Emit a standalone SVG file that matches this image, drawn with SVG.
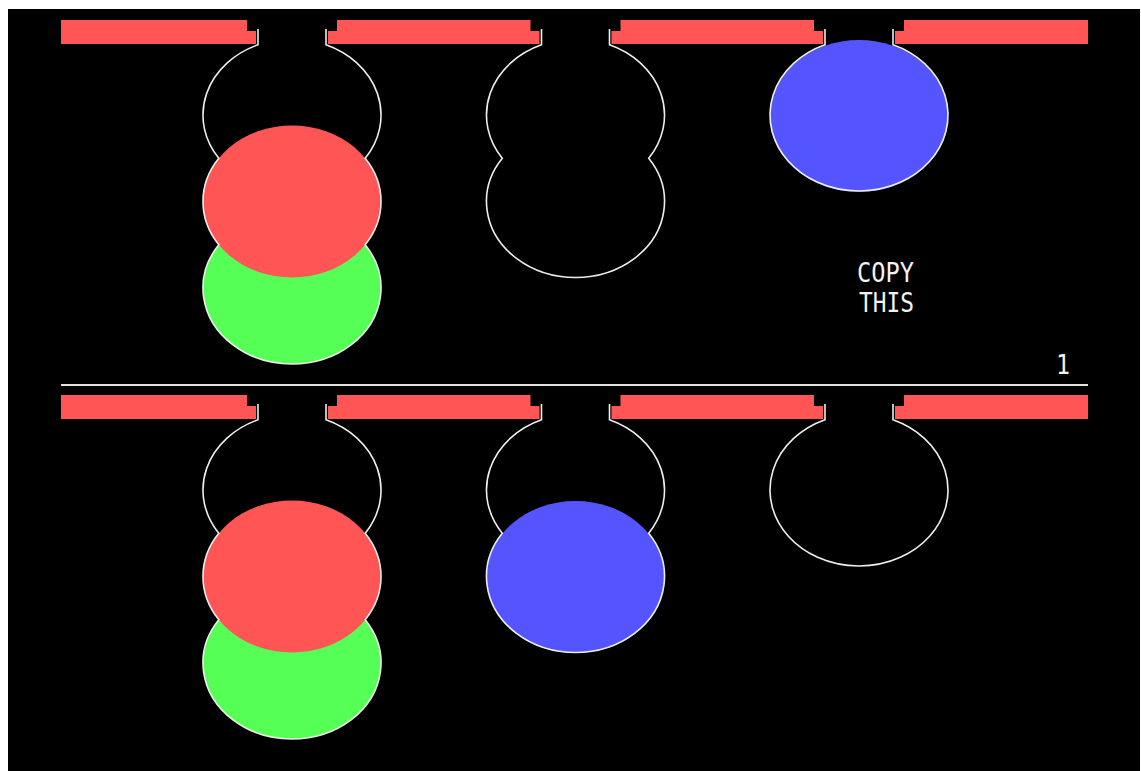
<svg xmlns="http://www.w3.org/2000/svg" width="1141" height="771" viewBox="0 0 1141 771">
<style>
.bar{fill:#FF5555}
.tube{fill:none;stroke:#EEEEEE;stroke-width:1.6}
.red{fill:#FF5555}
.green{fill:#55FF55}
.blue{fill:#5555FF}
.txt{fill:#F2F2F2;font-family:"DejaVu Sans Mono","Liberation Mono",monospace;font-size:26px}
</style>
<rect x="0" y="0" width="1141" height="771" fill="#FFFFFF"/>
<rect x="8" y="9" width="1132" height="762" fill="#000000"/>

<g id="panel-top">
  <g id="bars-top">
    <path class="bar" d="M61 20H247V31H256V44H61Z"/>
    <path class="bar" d="M337 20H530.5V31H539.5V44H328V31H337Z"/>
    <path class="bar" d="M620.5 20H814V31H823V44H611.5V31H620.5Z"/>
    <path class="bar" d="M904 20H1088V44H895V31H904Z"/>
  </g>
  <g id="balls-top">
    <ellipse class="green" cx="292" cy="288" rx="89" ry="76"/>
    <ellipse class="red" cx="292" cy="201.5" rx="89" ry="76"/>
    <ellipse class="blue" cx="859" cy="116" rx="89" ry="76"/>
  </g>
  <g id="tube-top-1">
    <path class="tube" d="M258 29V44.76A89 76 0 0 0 218.8 158.25A89 76 0 0 0 218.8 244.75A89 76 0 1 0 365.2 244.75A89 76 0 0 0 365.2 158.25A89 76 0 0 0 326 44.76V29"/>
  </g>
  <g id="tube-top-2">
    <path class="tube" d="M541.5 29V44.76A89 76 0 0 0 502.3 158.25A89 76 0 1 0 648.7 158.25A89 76 0 0 0 609.5 44.76V29"/>
  </g>
  <g id="tube-top-3">
    <path class="tube" d="M825 29V44.76A89 76 0 1 0 893 44.76V29"/>
  </g>
  <g id="label-copy">
    <text class="txt" x="857" y="282" textLength="57" lengthAdjust="spacingAndGlyphs">COPY</text>
    <text class="txt" x="859" y="312" textLength="55" lengthAdjust="spacingAndGlyphs">THIS</text>
  </g>
  <g id="label-level">
    <text class="txt" x="1056" y="374" textLength="14" lengthAdjust="spacingAndGlyphs">1</text>
  </g>
</g>

<g id="divider">
  <line x1="61" y1="385" x2="1088" y2="385" stroke="#E0E0E0" stroke-width="2"/>
</g>

<g id="panel-bottom">
  <g id="bars-bottom">
    <path class="bar" d="M61 395H247V406H256V419H61Z"/>
    <path class="bar" d="M337 395H530.5V406H539.5V419H328V406H337Z"/>
    <path class="bar" d="M620.5 395H814V406H823V419H611.5V406H620.5Z"/>
    <path class="bar" d="M904 395H1088V419H895V406H904Z"/>
  </g>
  <g id="balls-bottom">
    <ellipse class="green" cx="292" cy="663" rx="89" ry="76"/>
    <ellipse class="red" cx="292" cy="576.5" rx="89" ry="76"/>
    <ellipse class="blue" cx="575.5" cy="577" rx="89" ry="76"/>
  </g>
  <g id="tube-bottom-1">
    <path class="tube" d="M258 404V419.76A89 76 0 0 0 218.8 533.25A89 76 0 0 0 218.8 619.75A89 76 0 1 0 365.2 619.75A89 76 0 0 0 365.2 533.25A89 76 0 0 0 326 419.76V404"/>
  </g>
  <g id="tube-bottom-2">
    <path class="tube" d="M541.5 404V419.76A89 76 0 0 0 502.3 533.25A89 76 0 1 0 648.7 533.25A89 76 0 0 0 609.5 419.76V404"/>
  </g>
  <g id="tube-bottom-3">
    <path class="tube" d="M825 404V419.76A89 76 0 1 0 893 419.76V404"/>
  </g>
</g>
</svg>
